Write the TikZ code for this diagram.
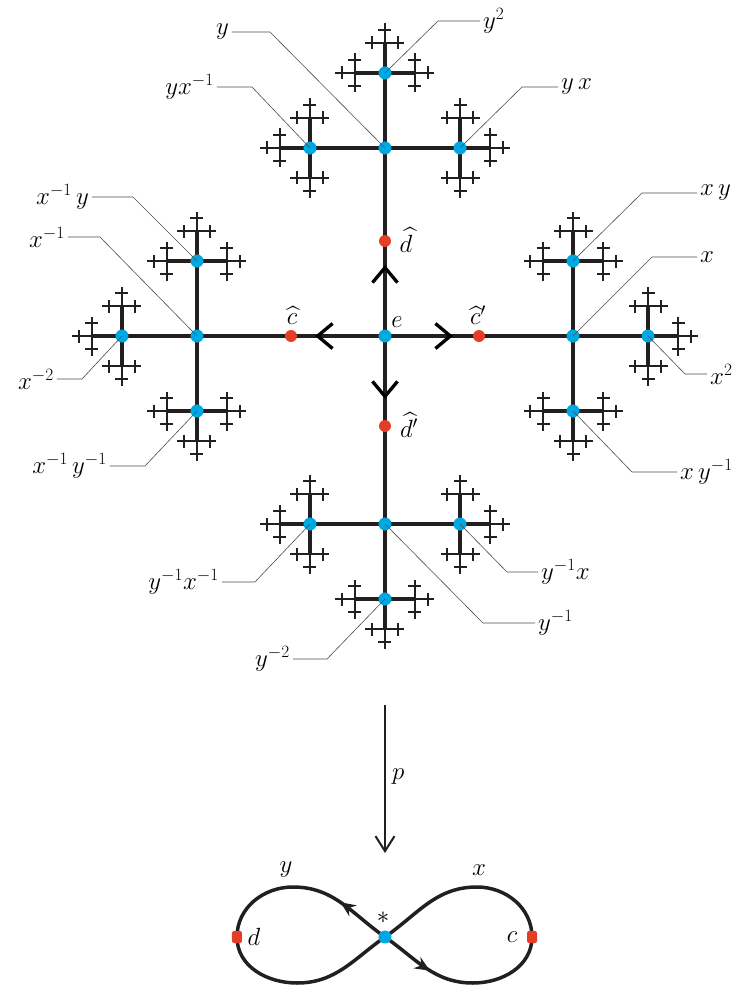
\documentclass[tikz,border=0pt]{standalone}
\usepackage{amsmath}
\usepackage{tikz}
\usetikzlibrary{arrows.meta, decorations.markings}
\definecolor{vblue}{RGB}{0,168,226}
\definecolor{vred}{RGB}{228,62,40}
\definecolor{ink}{RGB}{35,31,32}

\newcommand\growbranch[4]{%
  \ifnum#4<6\relax
    \pgfmathsetmacro\seglen{{0,188,75,30,13,6.5}[#4]}%
    \pgfmathsetmacro\segwd{{0,4.2,4,3.3,2.7,2.1}[#4]}%
    \pgfmathtruncatemacro\backang{mod(#3+180,360)}%
    \pgfmathtruncatemacro\nxtlev{#4+1}%
    \foreach \ang in {0,90,180,270}{%
      \ifnum\ang=\backang\relax\else
        \pgfmathsetmacro\nx{#1+\seglen*cos(\ang)}%
        \pgfmathsetmacro\ny{#2+\seglen*sin(\ang)}%
        \draw[ink, line width=\segwd pt] (#1,#2) -- (\nx,\ny);
        \edef\dogrow{\noexpand\growbranch{\nx}{\ny}{\ang}{\nxtlev}}%
        \begingroup\dogrow\endgroup
      \fi}%
  \fi}

\begin{document}
\begin{tikzpicture}[x=1pt, y=1pt,
    vtx/.style={circle, fill=vblue, inner sep=0pt, minimum size=13pt},
    rdot/.style={circle, fill=vred, inner sep=0pt, minimum size=12pt},
    rsq/.style={rectangle, rounded corners=2pt, fill=vred, inner sep=0pt, minimum width=10pt, minimum height=12pt},
    lbl/.style={font=\fontsize{26}{31}\selectfont, inner sep=3pt},
    hat/.style={font=\fontsize{26}{31}\selectfont, inner sep=0.5pt},
    leader/.style={draw=black!70, line width=0.6pt},
    chevmark/.style={decoration={markings, mark=at position #1 with {\arrow{Straight Barb[length=15pt,width=25pt,line width=3.3pt]}}}, decorate},
    loopline/.style={draw=ink, line width=3.5pt},
    loopmark/.style={postaction={decorate}, decoration={markings, mark=at position #1 with {\arrow{Stealth[length=15pt,width=13pt]}}}}]
  \useasboundingbox (-385,-655) rectangle (350,336);

  \growbranch{0}{0}{45}{1}

  \foreach \vname/\px/\py in {e/0/0, x/188/0, xi/-188/0, y/0/188, yi/0/-188,
      y2/0/263, yx/75/188, yxi/-75/188, xy/188/75, x2/263/0, xyi/188/-75,
      xiy/-188/75, xi2/-263/0, xiyi/-188/-75, yixi/-75/-188, yix/75/-188, yi2/0/-263}{
    \node[vtx] (\vname) at (\px,\py) {};
  }

  \foreach \tgt/\dist in {y/71, x/68, xi/70, yi/63}{
    \path[ink, chevmark=\dist pt] (e.center) -- (\tgt.center);
  }

  \node[rdot] (ch) at (-94,0) {};
  \node[rdot] (chp) at (94,0) {};
  \node[rdot] (dh) at (0,95) {};
  \node[rdot] (dhp) at (0,-90) {};
  \node[hat] at (12,14) {$e$};
  \node[hat] at (-93,20) {$\widehat{c}$};
  \node[hat] at (93,21) {$\widehat{c}'$};
  \node[hat] at (21,96) {$\widehat{d}$};
  \node[hat] at (24,-89) {$\widehat{d}'$};

  \foreach \vname/\ex/\ey/\lx/\side/\txt in {
      y2/53/315/95/west/{$y^2$},
      y/-115/304/-153/east/{$y$},
      yxi/-133/249/-168/east/{$yx^{-1}$},
      yx/137/249/173/west/{$y\,x$},
      xiy/-252/139/-293/east/{$x^{-1}\,y$},
      xi/-285/99/-317/east/{$x^{-1}$},
      xi2/-303/-43/-328/east/{$x^{-2}$},
      xiyi/-240/-130/-275/east/{$x^{-1}\,y^{-1}$},
      xy/257/143/312/west/{$x\,y$},
      x/267/79/312/west/{$x$},
      x2/300/-38/322/west/{$x^2$},
      xyi/247/-136/292/west/{$x\,y^{-1}$},
      yixi/-130/-246/-163/east/{$y^{-1}x^{-1}$},
      yix/122/-236/153/west/{$y^{-1}x$},
      yi/98/-287/150/west/{$y^{-1}$},
      yi2/-58/-323/-92/east/{$y^{-2}$}}{
    \node[lbl, anchor=\side] (l\vname) at (\lx,\ey) {\txt};
    \draw[leader] (\vname.center) -- (\ex,\ey) -- (l\vname.\side);
  }

  \coordinate (ptop) at (0,-369);
  \coordinate (pbot) at (0,-517);
  \draw[ink, line width=2pt, -{Straight Barb[length=15pt,width=19pt]}] (ptop) -- (pbot);
  \node[lbl, anchor=west] (lp) at (4,-441) {$p$};

  \coordinate (star) at (0,-601);
  \coordinate (dpt) at (-148,-601);
  \coordinate (cpt) at (147,-601);
  \draw[loopline, loopmark=0.15] (star) to[out=145,in=0] (-92,-551) to[out=180,in=90] (dpt)
    to[out=-90,in=180] (-88,-647) to[out=0,in=215] (star);
  \draw[loopline, loopmark=0.15] (star) to[out=-35,in=180] (88,-647) to[out=0,in=-90] (cpt)
    to[out=90,in=0] (92,-551) to[out=180,in=35] (star);
  \node[vtx] (base) at (star) {};
  \node[rsq] (dd) at (dpt) {};
  \node[rsq] (cc) at (cpt) {};
  \node[lbl] at (-99,-534) {$y$};
  \node[lbl] at (94,-534) {$x$};
  \node[hat] at (-2,-582) {$*$};
  \node[hat] at (-131,-601) {$d$};
  \node[hat] at (127,-601) {$c$};
\end{tikzpicture}
\end{document}
